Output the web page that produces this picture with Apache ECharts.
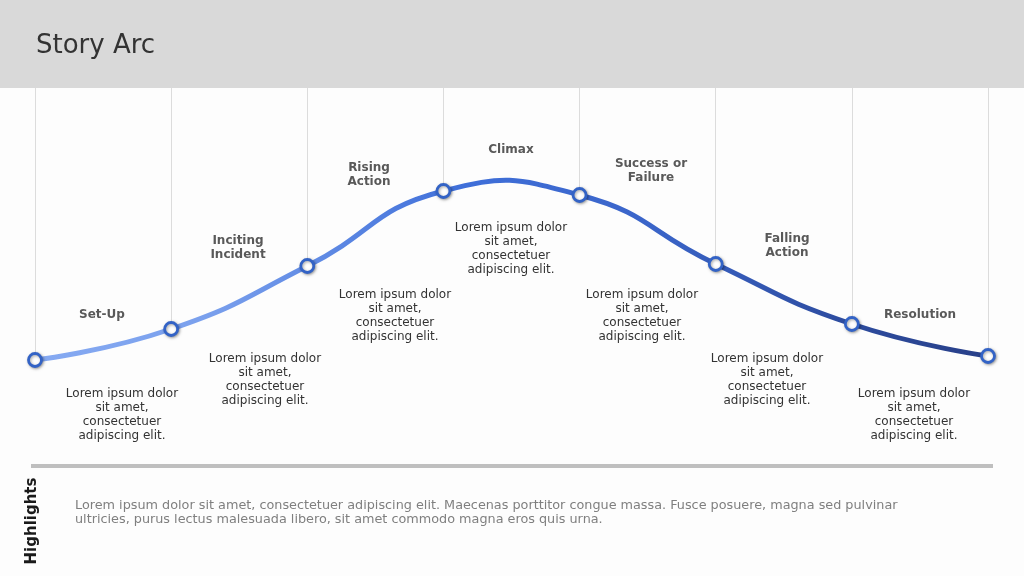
<!DOCTYPE html>
<html>
<head>
<meta charset="utf-8">
<script src="https://cdn.jsdelivr.net/npm/echarts@6/dist/echarts.min.js"></script>
<style>
html,body{margin:0;padding:0;background:#fdfdfd;}
#c{width:1024px;height:576px;}
</style>
</head>
<body>
<div id="c"></div>
<script>
// ---- data ----
var pointIds = ['0', '1', '2', '3', '4', '5', '6', '7'];
var arcValues = [32, 39.75, 55.5, 74.25, 73.25, 56, 41, 33];
var stageTitles = ['Set-Up', 'Inciting\nIncident', 'Rising\nAction', 'Climax', 'Success or\nFailure', 'Falling\nAction', 'Resolution'];
var stageTexts = [
  'Lorem ipsum dolor\nsit amet,\nconsectetuer\nadipiscing elit.',
  'Lorem ipsum dolor\nsit amet,\nconsectetuer\nadipiscing elit.',
  'Lorem ipsum dolor\nsit amet,\nconsectetuer\nadipiscing elit.',
  'Lorem ipsum dolor\nsit amet,\nconsectetuer\nadipiscing elit.',
  'Lorem ipsum dolor\nsit amet,\nconsectetuer\nadipiscing elit.',
  'Lorem ipsum dolor\nsit amet,\nconsectetuer\nadipiscing elit.',
  'Lorem ipsum dolor\nsit amet,\nconsectetuer\nadipiscing elit.'
];
var chartTitle = 'Story Arc';
var highlightsLabel = 'Highlights';
var highlightsText = 'Lorem ipsum dolor sit amet, consectetuer adipiscing elit. Maecenas porttitor congue massa. Fusce posuere, magna sed pulvinar\nultricies, purus lectus malesuada libero, sit amet commodo magna eros quis urna.';

// ---- layout (pixel positions of annotation text) ----
var titlePos = [[102, 308], [238, 234], [369, 161], [511, 143], [651, 157], [787, 232], [920, 308]];
var textPos = [[122, 387], [265, 352], [395, 288], [511, 221], [642, 288], [767, 352], [914, 387]];

var FONT = '"DejaVu Sans", Verdana, sans-serif';
var chart = echarts.init(document.getElementById('c'));

var graphics = [
  { type: 'rect', shape: { x: 0, y: 0, width: 1024, height: 88 }, style: { fill: '#d9d9d9' }, z: 0 },
  { type: 'text', left: 36, top: 33, style: { text: chartTitle, font: '26px ' + FONT, fill: '#333333' } },
  { type: 'line', shape: { x1: 31, y1: 466, x2: 993, y2: 466 }, style: { stroke: '#bfbfbf', lineWidth: 4 } },
  { type: 'text', x: 32, y: 521, rotation: Math.PI / 2,
    style: { text: highlightsLabel, font: 'bold 15px ' + FONT, fill: '#1a1a1a', textAlign: 'center', textVerticalAlign: 'middle' } },
  { type: 'text', x: 75, y: 499,
    style: { text: highlightsText, font: '12.8px ' + FONT, fill: '#7f7f7f', lineHeight: 14 } }
];
stageTitles.forEach(function (t, i) {
  graphics.push({ type: 'text', x: titlePos[i][0], y: titlePos[i][1],
    style: { text: t, font: 'bold 12px ' + FONT, fill: '#595959', textAlign: 'center', lineHeight: 14 } });
});
stageTexts.forEach(function (t, i) {
  graphics.push({ type: 'text', x: textPos[i][0], y: textPos[i][1],
    style: { text: t, font: '12px ' + FONT, fill: '#333333', textAlign: 'center', lineHeight: 14 } });
});

var yMax = 100;
var markLines = arcValues.map(function (v, i) {
  return [{ coord: [pointIds[i], v] }, { coord: [pointIds[i], yMax] }];
});

var SMOOTH = 0.5;
function renderArc(params, api) {
  if (params.dataIndex !== 0) return null;
  var pts = arcValues.map(function (v, i) { return api.coord([i, v]); });
  var n = pts.length;
  function ctrl(i) {
    var p = pts[i];
    if (i === 0 || i === n - 1) return [p, p];
    var a = pts[i - 1], b = pts[i + 1];
    var vx = b[0] - a[0], vy = b[1] - a[1];
    var d0 = Math.hypot(p[0] - a[0], p[1] - a[1]);
    var d1 = Math.hypot(b[0] - p[0], b[1] - p[1]);
    var r0 = SMOOTH * d0 / (d0 + d1), r1 = SMOOTH * d1 / (d0 + d1);
    return [[p[0] - vx * r0, p[1] - vy * r0], [p[0] + vx * r1, p[1] + vy * r1]];
  }
  var cps = pts.map(function (p, i) { return ctrl(i); });
  var d = 'M' + pts[0][0] + ' ' + pts[0][1];
  for (var i = 0; i < n - 1; i++) {
    var c1 = cps[i][1], c2 = cps[i + 1][0], e = pts[i + 1];
    d += ' C' + c1[0] + ' ' + c1[1] + ' ' + c2[0] + ' ' + c2[1] + ' ' + e[0] + ' ' + e[1];
  }
  var grad = new echarts.graphic.LinearGradient(pts[0][0], 0, pts[n - 1][0], 0, [
    { offset: 0, color: '#86aaf2' },
    { offset: 0.18, color: '#7aa0ed' },
    { offset: 0.45, color: '#3f6fd9' },
    { offset: 0.65, color: '#3a64c8' },
    { offset: 0.85, color: '#2d4c9f' },
    { offset: 1, color: '#283f88' }
  ], true);
  return {
    type: 'path',
    shape: { pathData: d },
    style: { fill: 'none', stroke: grad, lineWidth: 5, lineCap: 'round', lineJoin: 'round' }
  };
}

chart.setOption({
  backgroundColor: '#fdfdfd',
  animation: false,
  grid: { left: 35, right: 36, top: 88, bottom: 88 },
  xAxis: { type: 'category', data: pointIds, boundaryGap: false, show: false },
  yAxis: { type: 'value', min: 0, max: yMax, show: false },
  graphic: graphics,
  series: [{
    type: 'custom',
    renderItem: renderArc,
    data: arcValues.map(function (v, i) { return [i, v]; }),
    z: 2,
    silent: true
  }, {
    type: 'scatter',
    data: arcValues,
    symbol: 'circle',
    symbolSize: 13,
    z: 3,
    itemStyle: {
      color: '#ffffff',
      borderColor: '#3363c6',
      borderWidth: 2.8,
      opacity: 1,
      shadowBlur: 3,
      shadowColor: 'rgba(0,0,0,0.35)',
      shadowOffsetX: 1,
      shadowOffsetY: 1
    },
    markLine: {
      silent: true,
      symbol: ['none', 'none'],
      label: { show: false },
      lineStyle: { color: '#dcdcdc', width: 1, type: 'solid' },
      data: markLines,
      z: 1
    }
  }]
});
</script>
</body>
</html>
